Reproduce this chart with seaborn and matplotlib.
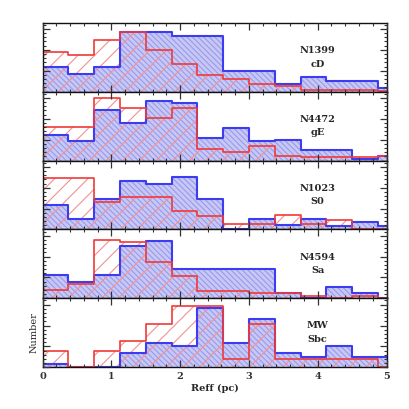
import numpy as np
import pandas as pd
import matplotlib
matplotlib.use("Agg")
import matplotlib.pyplot as plt
import seaborn as sns
from matplotlib.ticker import MultipleLocator

sns.set_style("ticks")
plt.rcParams['font.family'] = ['DejaVu Serif']
plt.rcParams.update({
    "xtick.direction": "in", "ytick.direction": "in",
    "xtick.top": True, "ytick.right": True,
    "xtick.major.size": 5, "ytick.major.size": 5,
    "xtick.minor.size": 2.5, "ytick.minor.size": 2.5,
    "xtick.major.width": 0.9, "ytick.major.width": 0.9,
    "xtick.minor.width": 0.8, "ytick.minor.width": 0.8,
    "xtick.color": "#333333", "ytick.color": "#333333",
    "xtick.minor.visible": True, "ytick.minor.visible": True,
    "hatch.linewidth": 0.8,
})

bin_edges = [0, 0.375, 0.75, 1.125, 1.5, 1.875, 2.25, 2.625, 3.0, 3.375, 3.75, 4.125, 4.5, 4.875, 5.25]
galaxies = ["N1399", "N4472", "N1023", "N4594", "MW"]
types = ["cD", "gE", "S0", "Sa", "Sbc"]

blue_n1399 = [5.8, 4.2, 5.8, 14.2, 14.2, 13.4, 13.4, 5.0, 5.0, 1.9, 3.4, 2.6, 2.6, 0.8]
red_n1399 = [9.4, 8.8, 12.3, 14.2, 10.0, 6.6, 4.0, 3.0, 1.9, 1.4, 0.4, 0.3, 0.3, 0.2]
blue_n4472 = [6.2, 4.6, 12.2, 9.0, 14.2, 13.8, 5.4, 7.8, 4.6, 5.0, 2.6, 2.6, 0.3, 1.0]
red_n4472 = [8.0, 8.0, 15.0, 12.6, 10.2, 12.6, 2.8, 2.0, 3.4, 1.0, 0.8, 0.8, 0.8, 1.0]
blue_n1023 = [5.8, 2.6, 7.4, 11.7, 10.9, 12.6, 7.4, 0.0, 2.6, 1.0, 2.6, 0.9, 1.8, 0.9]
red_n1023 = [12.2, 12.2, 6.6, 7.8, 7.8, 4.4, 3.3, 1.3, 1.3, 3.4, 1.2, 2.2, 0.0, 0.0]
blue_n4594 = [5.6, 4.0, 5.6, 12.6, 13.8, 7.0, 7.0, 7.0, 7.0, 1.4, 0.0, 2.8, 1.4, 0.0]
red_n4594 = [2.0, 3.4, 14.0, 13.4, 8.6, 5.4, 1.8, 1.8, 1.4, 1.4, 0.6, 0.0, 0.6, 0.0]
blue_mw = [0.8, 0.0, 0.0, 3.4, 5.8, 5.0, 14.2, 5.8, 11.5, 3.4, 2.4, 5.0, 2.4, 2.4]
red_mw = [4.0, 0.0, 4.0, 6.2, 10.4, 14.6, 14.6, 2.0, 10.4, 2.0, 2.0, 2.0, 2.0, 0.0]

blues = [blue_n1399, blue_n4472, blue_n1023, blue_n4594, blue_mw]
reds = [red_n1399, red_n4472, red_n1023, red_n4594, red_mw]

edges = np.array(bin_edges)
centers = (edges[:-1] + edges[1:]) / 2

fig, axes = plt.subplots(5, 1, figsize=(4.09, 4.09), dpi=100, sharex=True)
fig.subplots_adjust(left=0.104, right=0.945, top=0.9445, bottom=0.102, hspace=0)

BLUE = "#3c3cf0"
RED = "#f03a3a"

for ax, gal, typ, b, r in zip(axes, galaxies, types, blues, reds):
    df = pd.DataFrame({"x": centers, "blue": b, "red": r})
    sns.histplot(data=df, x="x", weights="blue", bins=list(bin_edges), element="step",
                 fill=True, ax=ax, color=BLUE, alpha=1, linewidth=0)
    poly = ax.collections[-1]
    poly.set_facecolor("#c8c8f4")
    poly.set_edgecolor("#9a9aee")
    poly.set_hatch("\\\\\\\\\\\\")
    poly.set_linewidth(0)
    sns.histplot(data=df, x="x", weights="red", bins=list(bin_edges), element="step",
                 fill=True, ax=ax, color=RED, alpha=1, linewidth=0)
    poly = ax.collections[-1]
    poly.set_facecolor("none")
    poly.set_edgecolor("#f49090")
    poly.set_hatch("//")
    poly.set_linewidth(0)
    sns.histplot(data=df, x="x", weights="blue", bins=list(bin_edges), element="step",
                 fill=False, ax=ax, color=BLUE, linewidth=1.5)
    sns.histplot(data=df, x="x", weights="red", bins=list(bin_edges), element="step",
                 fill=False, ax=ax, color=RED, linewidth=1.2)

    ax.set_xlim(0, 5)
    ax.set_ylim(0, 16.5)
    ax.set_ylabel("")
    ax.set_xlabel("")
    ax.yaxis.set_major_locator(MultipleLocator(5))
    ax.yaxis.set_minor_locator(MultipleLocator(1))
    ax.xaxis.set_major_locator(MultipleLocator(1))
    ax.xaxis.set_minor_locator(MultipleLocator(0.2))
    ax.tick_params(which="both", direction="in", top=True, right=True,
                   bottom=True, left=True, labelleft=False)
    ax.set_axisbelow(False)
    for s in ax.spines.values():
        s.set_visible(True)
        s.set_linewidth(1.0)
        s.set_color("#111111")
    ax.text(0.80, 0.60, gal, transform=ax.transAxes, ha="center", va="center",
            fontsize=7, fontweight="bold")
    ax.text(0.80, 0.40, typ, transform=ax.transAxes, ha="center", va="center",
            fontsize=7, fontweight="bold")

axes[-1].tick_params(labelbottom=True, labelsize=7)
for lab in axes[-1].get_xticklabels():
    lab.set_fontweight("bold")
axes[-1].set_xlabel("Reff (pc)", fontsize=7, fontweight="bold", labelpad=2)
axes[-1].set_ylabel("Number", fontsize=7, labelpad=3)
for ax in axes[:-1]:
    ax.tick_params(labelbottom=False)

fig.savefig("out.png", dpi=100)
